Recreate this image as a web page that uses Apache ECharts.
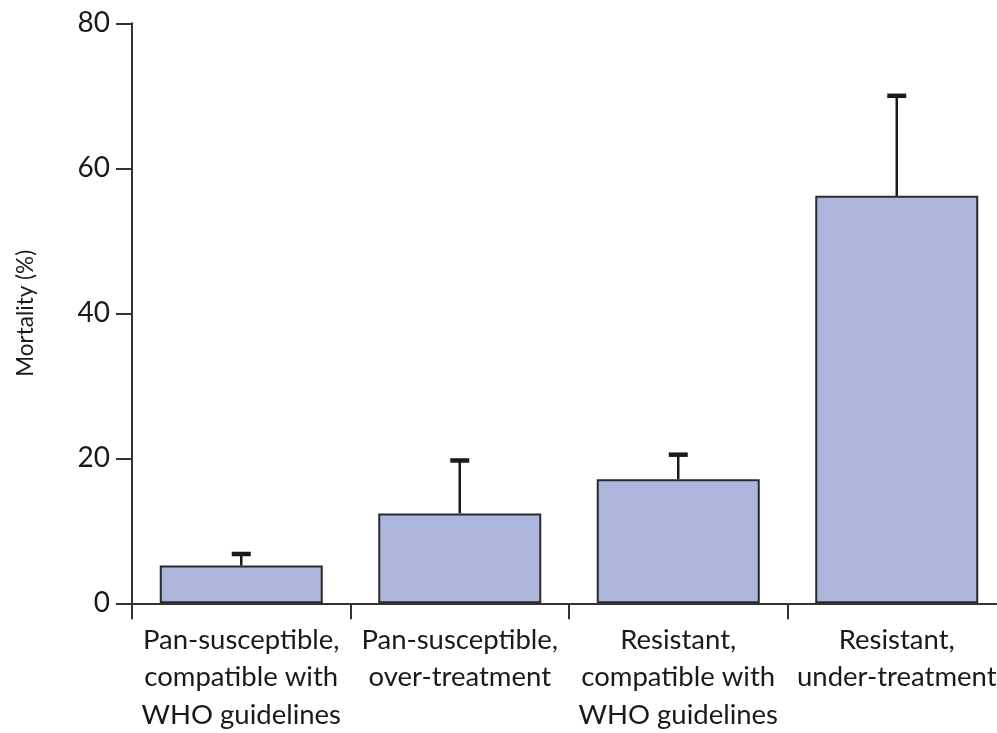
<!DOCTYPE html>
<html>
<head>
<meta charset="utf-8">
<script src="https://cdn.jsdelivr.net/npm/echarts@6/dist/echarts.min.js"></script>
<style>
html,body{margin:0;padding:0;background:#fff;}
#chart{width:997px;height:733px;}
</style>
</head>
<body>
<div id="chart"></div>
<script>
var categories = [
  'Pan-susceptible,\ncompatible with\nWHO guidelines',
  'Pan-susceptible,\nover-treatment',
  'Resistant,\ncompatible with\nWHO guidelines',
  'Resistant,\nunder-treatment'
];
var mortality = [5.2, 12.4, 17.1, 56.2];
var errorUpper = [6.8, 19.7, 20.5, 70.0];
var yTicks = [0, 20, 40, 60, 80];

var FONT = 'Lato';
var TEXT = '#1a1a1a';
var LINE = '#333';

var errData = categories.map(function (c, i) { return [i, mortality[i], errorUpper[i]]; });

var chart = echarts.init(document.getElementById('chart'));
chart.setOption({
  animation: false,
  backgroundColor: '#fff',
  grid: {
    left: 132, right: -9, top: 23.3, bottom: 129.7,
    containLabel: false, outerBoundsMode: 'none'
  },
  xAxis: {
    type: 'category',
    data: categories,
    axisLine: { lineStyle: { color: LINE, width: 2 } },
    axisTick: { show: true, length: 16, lineStyle: { color: LINE, width: 2 } },
    axisLabel: {
      interval: 0, margin: 18, fontFamily: FONT, fontSize: 27.5, lineHeight: 37.5,
      color: TEXT, align: 'center'
    }
  },
  yAxis: {
    type: 'value',
    min: yTicks[0], max: yTicks[yTicks.length - 1], interval: 20,
    name: 'Mortality (%)',
    nameLocation: 'middle',
    nameGap: 95,
    nameRotate: 90,
    nameTextStyle: { fontFamily: FONT, fontSize: 22.5, color: TEXT },
    axisLine: { show: true, lineStyle: { color: LINE, width: 2 } },
    axisTick: { show: true, length: 16, lineStyle: { color: LINE, width: 2 } },
    splitLine: { show: false },
    axisLabel: { margin: 22, fontFamily: FONT, fontSize: 28, color: TEXT }
  },
  series: [
    {
      type: 'bar',
      data: mortality,
      barWidth: '74.6%',
      itemStyle: { color: '#adb6dc', borderColor: '#2a2a2a', borderWidth: 2 },
      z: 2
    },
    {
      type: 'custom',
      data: errData,
      z: 1,
      renderItem: function (params, api) {
        var i = api.value(0);
        var lo = api.coord([i, api.value(1)]);
        var hi = api.coord([i, api.value(2)]);
        var half = 9.5;
        return {
          type: 'group',
          children: [
            { type: 'line', shape: { x1: lo[0], y1: lo[1], x2: hi[0], y2: hi[1] },
              style: { stroke: '#1a1a1a', lineWidth: 2.5 } },
            { type: 'line', shape: { x1: hi[0] - half, y1: hi[1], x2: hi[0] + half, y2: hi[1] },
              style: { stroke: '#1a1a1a', lineWidth: 4.5 } }
          ]
        };
      }
    }
  ]
});
</script>
</body>
</html>
